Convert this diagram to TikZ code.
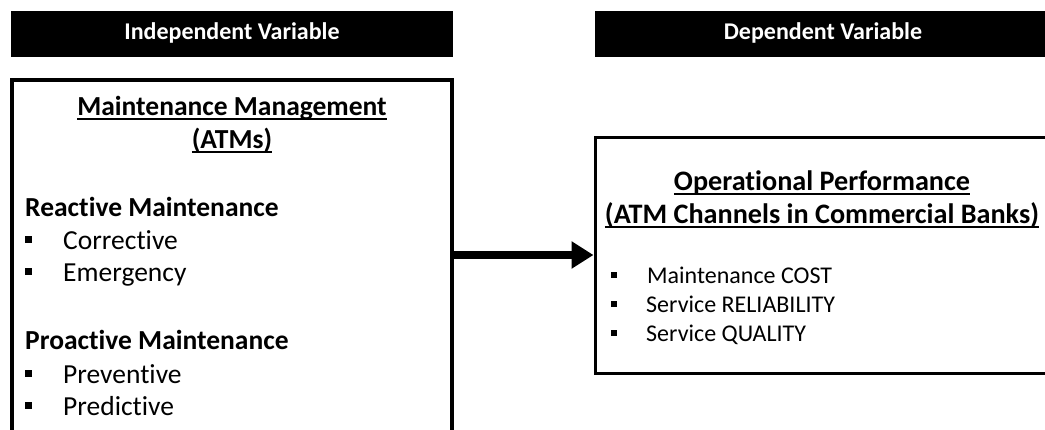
\documentclass[tikz,border=0pt]{standalone}
\usepackage{fontspec}
\setmainfont{Carlito}[Ligatures=NoCommon]
\usetikzlibrary{arrows.meta}
\tikzset{
  hdr/.style={fill=black, inner sep=0pt, minimum height=46pt},
  hdrtxt/.style={anchor=base, inner sep=0pt, text=white,
    font=\fontsize{24}{29}\selectfont\bfseries},
  frame/.style={draw=black, inner sep=0pt},
  ttl/.style={anchor=base, inner sep=0pt, font=\fontsize{27.5}{33}\selectfont\bfseries},
  ttlr/.style={anchor=base, inner sep=0pt, font=\fontsize{28.2}{33}\selectfont\bfseries},
  head/.style={anchor=base west, inner sep=0pt, font=\fontsize{27.5}{33}\selectfont\bfseries},
  itm/.style={anchor=base west, inner sep=0pt, font=\fontsize{27.5}{33}\selectfont},
  itmsm/.style={anchor=base west, inner sep=0pt, font=\fontsize{24}{29}\selectfont},
  link/.style={line width=7.5pt, -{Triangle[length=22pt,width=26pt]}}
}
\newcommand{\bigsq}{\makebox[38pt][l]{\rule[6pt]{7pt}{7pt}}}
\newcommand{\smsq}[1]{\makebox[#1][l]{\rule[5pt]{6pt}{6pt}}}
\newcommand{\ulx}[1]{\leavevmode\setbox0\hbox{#1}\rlap{\rule[-5pt]{\wd0}{1.8pt}}\box0}
\begin{document}
\begin{tikzpicture}[x=1pt,y=-1pt]
\useasboundingbox (0,0) rectangle (1045,429);
\clip (0,0) rectangle (1045,429);
\fill[white] (0,0) rectangle (1045,429);
% headers
\node[hdr, minimum width=442pt] (lh) at (232,34) {};
\node[hdr, minimum width=455pt] (rh) at (822.5,34) {};
\node[hdrtxt] (lht) at (232,39) {Independent Variable};
\node[hdrtxt] (rht) at (823,39) {Dependent Variable};
% boxes
\node[frame, line width=3.5pt, minimum width=440pt, minimum height=390pt] (lb) at (232,275) {};
\node[frame, line width=3pt, minimum width=480pt, minimum height=236pt] (rb) at (835,255) {};
% left content
\node[ttl] (t1) at (232,115) {\ulx{Maintenance Management}};
\node[ttl] (t2) at (232,148) {\ulx{(ATMs)}};
\node[head] (h1) at (25,216) {Reactive Maintenance};
\node[itm] (c1) at (25,249) {\bigsq Corrective};
\node[itm] (c2) at (25,281) {\bigsq Emergency};
\node[head] (h2) at (25,349) {Proactive Maintenance};
\node[itm] (p1) at (25,383) {\bigsq Preventive};
\node[itm] (p2) at (25,415) {\bigsq Predictive};
% right content
\node[ttlr] (o1) at (822,190) {\ulx{Operational Performance}};
\node[ttlr] (o2) at (822,223) {\ulx{(ATM Channels in Commercial Banks)}};
\node[itmsm] (m1) at (611,283) {\smsq{36pt}Maintenance COST};
\node[itmsm] (m2) at (611,312) {\smsq{35pt}Service RELIABILITY};
\node[itmsm] (m3) at (611,341) {\smsq{35pt}Service QUALITY};
% connector
\draw[link] (lb.east |- rb.west) -- (rb.west);
\end{tikzpicture}
\end{document}
